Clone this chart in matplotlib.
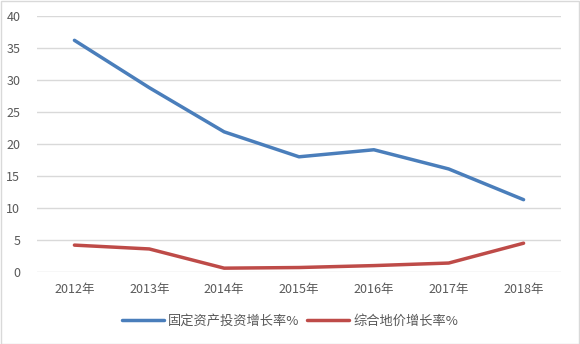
import matplotlib
matplotlib.use("Agg")
import matplotlib.pyplot as plt
from matplotlib.patches import Rectangle

plt.rcParams['font.family'] = ['Noto Sans CJK SC', 'DejaVu Sans']

years = ["2012年", "2013年", "2014年", "2015年", "2016年", "2017年", "2018年"]
invest_growth = [36.2, 28.8, 21.9, 18.0, 19.1, 16.1, 11.3]
land_price_growth = [4.2, 3.6, 0.6, 0.7, 1.0, 1.4, 4.5]
series_names = ["固定资产投资增长率%", "综合地价增长率%"]

W, H = 580, 344
fig = plt.figure(figsize=(W / 100, H / 100), dpi=100)
fig.patch.set_facecolor('white')
fig.add_artist(Rectangle((0.5 / W, 0.5 / H), 1 - 1.5 / W, 1 - 1.5 / H, transform=fig.transFigure,
                         fill=False, edgecolor='#d9d9d9', linewidth=1))

left, right, top, bottom = 37, 561, 16, 272
ax = fig.add_axes([left / W, 1 - bottom / H, (right - left) / W, (bottom - top) / H])

x = list(range(len(years)))
ax.plot(x, invest_growth, color='#4a7ebb', linewidth=2.5, label=series_names[0], solid_capstyle='round')
ax.plot(x, land_price_growth, color='#be4b48', linewidth=2.5, label=series_names[1], solid_capstyle='round')

ax.set_xlim(-0.5, len(years) - 0.5)
ax.set_ylim(0, 40)
ax.set_yticks(range(0, 41, 5))
ax.set_xticks(x)
ax.set_xticklabels(years)
ax.grid(axis='y', color='#d9d9d9', linewidth=1)
ax.set_axisbelow(True)
for s in ax.spines.values():
    s.set_visible(False)
ax.tick_params(length=0, colors='#595959', labelsize=9)
ax.tick_params(axis='y', pad=12)
ax.tick_params(axis='x', pad=8)

leg = fig.legend(loc='center', bbox_to_anchor=(290 / W, 1 - 321 / H), ncol=2, frameon=False,
                 fontsize=9.5, handlelength=3.2, columnspacing=0.6, handletextpad=0.3)
for t in leg.get_texts():
    t.set_color('#595959')

fig.savefig('out.png', dpi=100)
